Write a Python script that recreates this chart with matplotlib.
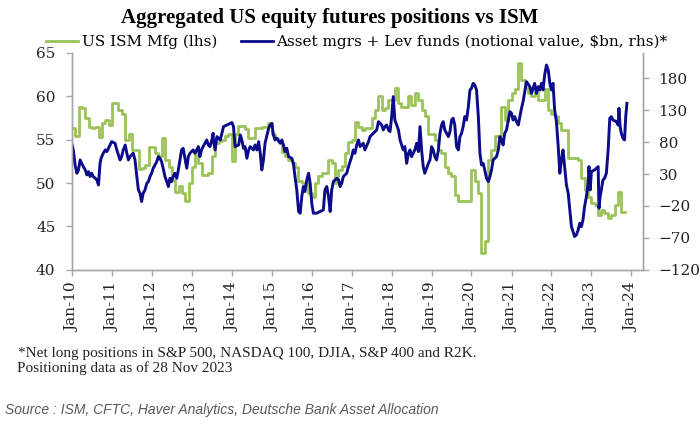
import numpy as np
import pandas as pd
import matplotlib
matplotlib.use('Agg')
import matplotlib.pyplot as plt
import matplotlib.dates as mdates
from matplotlib.lines import Line2D

# US ISM manufacturing, monthly, Jan 2010 - Nov 2023 (lhs)
ism_2010 = [56.3, 55.4, 58.8, 58.6, 57.5, 56.5, 56.3, 56.4, 55.3, 56.9, 57.3, 56.7]
ism_2011 = [59.2, 59.2, 58.4, 58.0, 55.0, 55.7, 53.8, 53.8, 51.6, 51.7, 52.1, 54.2]
ism_2012 = [54.2, 53.5, 53.1, 55.2, 52.7, 51.9, 50.4, 49.0, 49.6, 48.8, 47.9, 50.0]
ism_2013 = [51.9, 53.8, 52.3, 50.9, 50.9, 51.1, 53.1, 54.6, 54.8, 55.0, 55.4, 55.6]
ism_2014 = [52.5, 55.7, 56.6, 56.6, 56.2, 55.2, 55.2, 56.3, 56.3, 56.5, 56.5, 56.9]
ism_2015 = [55.7, 55.2, 54.8, 53.6, 53.1, 52.7, 52.3, 51.9, 50.2, 50.0, 50.0, 48.8]
ism_2016 = [48.4, 50.0, 50.8, 51.1, 51.1, 52.7, 52.3, 50.0, 51.5, 52.0, 53.5, 54.7]
ism_2017 = [55.0, 57.0, 56.4, 56.1, 56.3, 56.3, 57.5, 58.4, 60.0, 58.4, 58.6, 59.6]
ism_2018 = [59.6, 60.9, 59.2, 58.8, 58.8, 60.0, 59.0, 60.4, 59.6, 58.4, 57.7, 55.7]
ism_2019 = [55.6, 55.0, 53.8, 53.4, 51.9, 51.1, 50.8, 48.6, 47.9, 47.9, 47.9, 47.9]
ism_2020 = [51.5, 50.2, 48.8, 41.9, 43.3, 52.7, 53.8, 55.4, 55.4, 58.8, 57.3, 59.6]
ism_2021 = [60.4, 60.8, 63.8, 61.9, 60.9, 60.4, 60.0, 60.5, 59.6, 59.6, 60.8, 58.4]
ism_2022 = [58.0, 57.7, 56.9, 56.1, 56.1, 52.9, 52.9, 52.9, 52.7, 50.6, 49.2, 48.4]
ism_2023 = [47.7, 47.5, 46.3, 46.9, 46.6, 46.0, 46.3, 47.5, 49.0, 46.7, 46.7]
ism = (ism_2010 + ism_2011 + ism_2012 + ism_2013 + ism_2014 + ism_2015 + ism_2016
       + ism_2017 + ism_2018 + ism_2019 + ism_2020 + ism_2021 + ism_2022 + ism_2023)
ism_dates = pd.date_range('2010-01-01', periods=len(ism), freq='MS')

# Asset mgrs + Lev funds net long, $bn (rhs) (decimal year, value)
pos_year = [2010.00, 2010.03, 2010.075, 2010.12, 2010.16, 2010.20, 2010.24, 2010.28, 2010.33, 2010.37,
            2010.41, 2010.45, 2010.49, 2010.53, 2010.58, 2010.62, 2010.66, 2010.70, 2010.725, 2010.78,
            2010.83, 2010.87, 2010.91, 2010.99, 2011.075, 2011.12, 2011.16, 2011.20, 2011.24, 2011.28,
            2011.33, 2011.37, 2011.41, 2011.45, 2011.49, 2011.53, 2011.575, 2011.62, 2011.66, 2011.70,
            2011.74, 2011.78, 2011.825, 2011.87, 2011.91, 2011.95, 2011.99, 2012.03, 2012.075, 2012.12,
            2012.16, 2012.20, 2012.24, 2012.28, 2012.325, 2012.37, 2012.41, 2012.45, 2012.49, 2012.53,
            2012.575, 2012.62, 2012.66, 2012.70, 2012.74, 2012.78, 2012.825, 2012.87, 2012.91, 2012.95,
            2012.99, 2013.03, 2013.075, 2013.12, 2013.16, 2013.20, 2013.24, 2013.28, 2013.325, 2013.37,
            2013.41, 2013.45, 2013.49, 2013.53, 2013.54, 2013.58, 2013.625, 2013.71, 2013.79, 2013.875,
            2013.96, 2014.00, 2014.04, 2014.08, 2014.17, 2014.21, 2014.25, 2014.29, 2014.33, 2014.375,
            2014.42, 2014.46, 2014.54, 2014.58, 2014.625, 2014.67, 2014.71, 2014.75, 2014.79, 2014.83,
            2014.92, 2014.96, 2015.00, 2015.04, 2015.08, 2015.125, 2015.21, 2015.25, 2015.29, 2015.33,
            2015.375, 2015.42, 2015.50, 2015.54, 2015.58, 2015.625, 2015.67, 2015.71, 2015.75, 2015.79,
            2015.83, 2015.875, 2015.92, 2015.96, 2016.00, 2016.04, 2016.125, 2016.21, 2016.29, 2016.33,
            2016.375, 2016.42, 2016.46, 2016.50, 2016.54, 2016.625, 2016.67, 2016.71, 2016.75, 2016.79,
            2016.875, 2016.92, 2016.96, 2017.00, 2017.04, 2017.08, 2017.125, 2017.17, 2017.21, 2017.29,
            2017.33, 2017.42, 2017.46, 2017.54, 2017.625, 2017.67, 2017.75, 2017.79, 2017.83, 2017.875,
            2017.92, 2017.96, 2018.00, 2018.04, 2018.08, 2018.125, 2018.17, 2018.21, 2018.29, 2018.33,
            2018.375, 2018.42, 2018.46, 2018.50, 2018.58, 2018.625, 2018.67, 2018.71, 2018.75, 2018.79,
            2018.83, 2018.92, 2018.96, 2019.00, 2019.04, 2019.08, 2019.125, 2019.17, 2019.21, 2019.25,
            2019.29, 2019.33, 2019.375, 2019.42, 2019.46, 2019.50, 2019.54, 2019.58, 2019.625, 2019.67,
            2019.71, 2019.75, 2019.79, 2019.83, 2019.875, 2019.92, 2019.96, 2020.00, 2020.04, 2020.08,
            2020.125, 2020.17, 2020.21, 2020.25, 2020.29, 2020.33, 2020.375, 2020.42, 2020.46, 2020.50,
            2020.54, 2020.625, 2020.67, 2020.71, 2020.75, 2020.79, 2020.83, 2020.875, 2020.96, 2021.00,
            2021.04, 2021.08, 2021.125, 2021.17, 2021.21, 2021.25, 2021.29, 2021.375, 2021.46, 2021.50,
            2021.54, 2021.58, 2021.625, 2021.67, 2021.71, 2021.75, 2021.79, 2021.83, 2021.875, 2021.92,
            2021.96, 2022.00, 2022.04, 2022.08, 2022.125, 2022.17, 2022.21, 2022.25, 2022.29, 2022.33,
            2022.375, 2022.42, 2022.46, 2022.50, 2022.54, 2022.58, 2022.625, 2022.67, 2022.71, 2022.75,
            2022.79, 2022.83, 2022.875, 2022.92, 2022.94, 2022.97, 2023.00, 2023.08, 2023.17, 2023.19,
            2023.22, 2023.29, 2023.33, 2023.375, 2023.42, 2023.46, 2023.50, 2023.54, 2023.625, 2023.67,
            2023.69, 2023.72, 2023.75, 2023.79, 2023.83, 2023.86, 2023.89]
pos_bn = [75.6, 67.8, 44.3, 31.3, 36.5, 52.1, 46.9, 41.7, 36.5, 28.7,
          33.9, 26.1, 31.3, 26.1, 23.4, 20.8, 13.0, 46.9, 54.7, 62.6,
          67.8, 65.2, 70.4, 80.8, 78.2, 67.8, 60.0, 52.1, 57.4, 67.8,
          75.6, 62.6, 52.1, 57.4, 60.0, 62.6, 52.1, 26.1, 5.2, 0.0,
          -13.1, 0.0, 5.2, 15.6, 18.2, 26.1, 31.3, 39.1, 44.3, 49.5,
          57.4, 54.7, 49.5, 39.1, 26.1, 18.2, 10.4, 23.4, 18.2, 26.1,
          31.3, 23.4, 36.5, 52.1, 67.8, 70.4, 54.7, 39.1, 57.4, 62.6,
          65.2, 67.8, 62.6, 67.8, 73.0, 57.4, 67.8, 73.0, 78.2, 83.4,
          75.6, 73.0, 80.8, 93.9, 83.4, 67.8, 88.7, 83.4, 104.3, 106.9,
          109.5, 110.6, 104.3, 73.0, 75.6, 91.3, 83.4, 70.4, 73.0, 54.7,
          67.8, 73.0, 67.8, 75.6, 67.8, 80.8, 62.6, 36.5, 52.1, 78.2,
          101.7, 106.9, 109.5, 91.3, 83.4, 86.0, 78.2, 83.4, 75.6, 65.2,
          70.4, 57.4, 54.7, 46.9, 26.1, 5.2, -28.7, -31.3, -5.2, 10.4,
          2.6, 20.8, 31.3, 15.6, -15.7, -31.3, -31.3, -28.7, -26.1, 5.2,
          10.4, -5.2, -28.7, 5.2, 18.2, 23.4, 20.8, 10.4, 15.6, 26.1,
          31.3, 41.7, 49.5, 57.4, 67.8, 62.6, 75.6, 83.4, 73.0, 78.2,
          67.8, 80.8, 88.7, 93.9, 99.1, 112.1, 106.9, 99.1, 104.3, 106.9,
          99.1, 96.5, 120.0, 151.3, 114.7, 106.9, 99.1, 83.4, 67.8, 73.0,
          46.9, 62.6, 67.8, 57.4, 67.8, 78.2, 65.2, 104.3, 67.8, 41.7,
          31.3, 46.9, 52.1, 73.0, 67.8, 57.4, 52.1, 67.8, 93.9, 106.9,
          112.1, 99.1, 93.9, 88.7, 96.5, 114.7, 117.4, 106.9, 73.0, 67.8,
          88.7, 93.9, 104.3, 120.0, 114.7, 135.6, 161.7, 164.3, 172.1, 169.5,
          161.7, 120.0, 62.6, 44.3, 46.9, 36.5, 23.4, 18.2, 26.1, 36.5,
          52.1, 57.4, 67.8, 88.7, 83.4, 75.6, 93.9, 99.1, 127.8, 125.2,
          114.7, 120.0, 112.1, 106.9, 120.0, 133.0, 143.4, 174.7, 166.9, 156.5,
          164.3, 172.1, 156.5, 166.9, 161.7, 172.1, 161.7, 185.2, 200.8, 193.0,
          172.1, 161.7, 172.1, 130.4, 112.1, 73.0, 31.3, 52.1, 67.8, 41.7,
          13.0, 0.0, -26.1, -52.2, -60.0, -67.8, -65.2, -57.4, -47.0, -52.2,
          -41.8, -20.9, -5.2, 15.6, 41.7, 5.2, 33.9, 36.5, 41.7, -23.5,
          -5.2, 20.8, 23.4, 31.3, 67.8, 117.4, 120.0, 114.7, 112.1, 106.9,
          133.0, 104.3, 93.9, 86.0, 83.4, 120.0, 140.8]

pos_year = np.array(pos_year)
pos_dates = pd.Timestamp('2010-01-01') + pd.to_timedelta((pos_year - 2010) * 365.25, unit='D')

green = '#9bc35a'
navy = '#0b0b8c'
grey = '#a6a6a6'

fig = plt.figure(figsize=(7, 4.29), dpi=100)
ax = fig.add_axes([0.103, 0.371, 0.816, 0.506])
ax2 = ax.twinx()

ax.plot(ism_dates, ism, color=green, lw=2.0, drawstyle='steps-post')
ax2.plot(pos_dates, pos_bn, color=navy, lw=2.1)

ax.set_ylim(40, 65)
ax.set_yticks(np.arange(40, 66, 5))
ax2.set_ylim(-120, 220)
ax2.set_yticks(np.arange(-120, 181, 50))
ax.set_xlim(pd.Timestamp('2010-01-01'), pd.Timestamp('2024-04-20'))
ax.xaxis.set_major_locator(mdates.YearLocator())
ax.xaxis.set_major_formatter(mdates.DateFormatter('%b-%y'))

for a in (ax, ax2):
    a.spines['top'].set_visible(False)
    for s in ('left', 'right', 'bottom'):
        a.spines[s].set_color(grey)
        a.spines[s].set_linewidth(1.0)
    a.tick_params(colors=grey, length=4, width=1.0)

ax.tick_params(axis='y', labelcolor='#222222', labelsize=11, pad=8)
ax.tick_params(axis='x', labelcolor='#222222', labelsize=11, pad=5, labelrotation=90)
ax2.tick_params(axis='y', labelcolor='#222222', labelsize=11, pad=7)
for lbl in ax.get_xticklabels() + ax.get_yticklabels() + ax2.get_yticklabels():
    lbl.set_family('DejaVu Serif')

# title and legend above the plot
fig.text(0.471, 0.958, 'Aggregated US equity futures positions vs ISM', ha='center', va='center',
         fontsize=15, fontweight='bold', family='Liberation Serif')

handles = [Line2D([], [], color=green, lw=2.0), Line2D([], [], color=navy, lw=2.0)]
fig.legend(handles, ['US ISM Mfg (lhs)', 'Asset mgrs + Lev funds (notional value, $bn, rhs)*'],
           loc='center', bbox_to_anchor=(0.51, 0.902), ncol=2, frameon=False,
           prop={'family': 'DejaVu Serif', 'size': 11}, handlelength=2.1, handletextpad=0.2,
           columnspacing=1.6, borderaxespad=0, borderpad=0)

# footnotes
fig.text(0.026, 1 - 354 / 429, '*Net long positions in S&P 500, NASDAQ 100, DJIA, S&P 400 and R2K.',
         ha='left', va='center', fontsize=11, family='Liberation Serif', color='#222222')
fig.text(0.024, 1 - 368 / 429, 'Positioning data as of 28 Nov 2023',
         ha='left', va='center', fontsize=11, family='Liberation Serif', color='#222222')
fig.text(0.007, 1 - 410 / 429, 'Source : ISM, CFTC, Haver Analytics, Deutsche Bank Asset Allocation',
         ha='left', va='center', fontsize=10, style='italic', family='Liberation Sans', color='#595959')

fig.savefig('out.png', dpi=100)
